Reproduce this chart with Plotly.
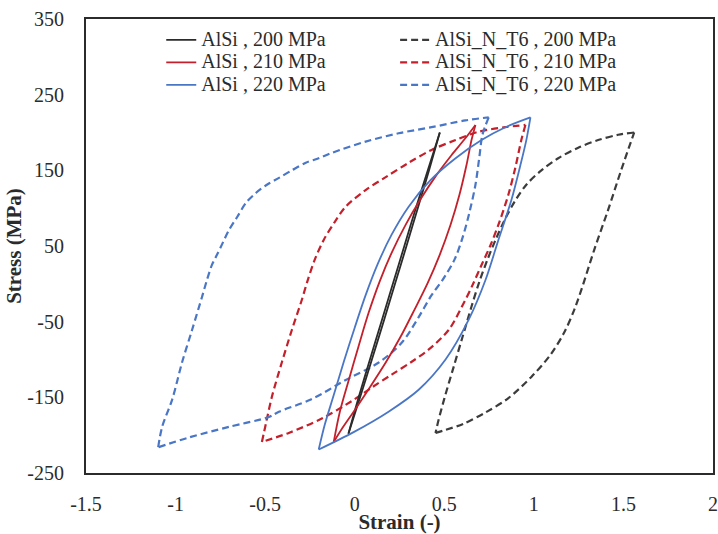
import plotly.graph_objects as go

# Hysteresis loops, strain (-) vs stress (MPa); each loop starts at its valley
strain_alsi_200 = [-0.035, 0.030, 0.096, 0.161, 0.225, 0.289, 0.352, 0.415, 0.475,
                   0.408, 0.341, 0.277, 0.213, 0.149, 0.085, 0.022, -0.035]
stress_alsi_200 = [-198, -150, -100, -50, 0, 50, 100, 150, 200,
                   150, 100, 50, 0, -50, -100, -150, -198]

strain_alsi_210 = [-0.117, -0.084, -0.033, 0.022, 0.078, 0.139, 0.206, 0.284, 0.368, 0.457,
                   0.540, 0.613, 0.674,
                   0.652, 0.624, 0.585, 0.535, 0.474, 0.407, 0.334, 0.256, 0.173, 0.084,
                   -0.006, -0.067, -0.117]
stress_alsi_210 = [-209, -170, -127, -82, -38, 3, 41, 78, 112, 144,
                   170, 191, 210,
                   190, 157, 118, 78, 38, 1, -34, -70, -104, -137,
                   -169, -190, -209]

strain_alsi_220 = [-0.201, -0.167, -0.117, -0.061, 0.000, 0.061, 0.128, 0.206, 0.301, 0.423,
                   0.563, 0.708, 0.841, 0.981,
                   0.958, 0.925, 0.875, 0.802, 0.730, 0.635, 0.507, 0.357, 0.189, -0.006,
                   -0.201]
stress_alsi_220 = [-219, -186, -147, -103, -58, -15, 26, 65, 102, 137,
                   166, 190, 207, 220,
                   190, 157, 111, 58, 5, -48, -100, -140, -169, -196,
                   -219]

strain_t6_200 = [0.451, 0.507, 0.607, 0.730, 0.858, 0.986, 1.092, 1.170, 1.226, 1.265,
                 1.337, 1.415, 1.487, 1.560,
                 1.471, 1.359, 1.248, 1.136, 1.042, 0.958, 0.891, 0.836, 0.786, 0.741,
                 0.696, 0.652, 0.602, 0.552, 0.501, 0.468, 0.451]
stress_t6_200 = [-197, -193, -185, -170, -151, -123, -94, -64, -34, -8,
                 45, 98, 150, 200,
                 197, 190, 180, 166, 150, 131, 108, 84, 58, 32,
                 3, -30, -70, -110, -151, -180, -197]

strain_t6_210 = [-0.518, -0.496, -0.462, -0.407, -0.351, -0.295, -0.262, -0.223, -0.173, -0.111,
                 -0.050, 0.061, 0.173, 0.301, 0.429, 0.563, 0.691, 0.841, 0.953,
                 0.930, 0.897, 0.858, 0.808, 0.758, 0.708, 0.663, 0.618, 0.524, 0.412,
                 0.318, 0.206, 0.095, -0.017, -0.184, -0.368, -0.518]
stress_t6_210 = [-209, -185, -149, -104, -61, -21, 5, 32, 58, 82,
                 102, 124, 141, 160, 177, 190, 201, 207, 210,
                 190, 154, 118, 82, 51, 25, 1, -21, -61, -87,
                 -103, -120, -137, -155, -178, -197, -209]

strain_t6_220 = [-1.097, -1.075, -1.019, -0.964, -0.908, -0.852, -0.825, -0.797, -0.774, -0.747,
                 -0.702, -0.657, -0.607, -0.552, -0.490, -0.423, -0.351, -0.273, -0.201, -0.128,
                 0.061, 0.245, 0.429, 0.618, 0.748, 0.713, 0.696, 0.674, 0.641,
                 0.602, 0.557, 0.490, 0.429, 0.357, 0.262, 0.134, -0.050, -0.245, -0.423,
                 -0.479, -0.702, -0.925, -1.097]
stress_t6_220 = [-216, -189, -153, -104, -61, -17, 5, 25, 36, 49,
                 71, 88, 107, 120, 131, 140, 150, 160, 166, 173,
                 188, 199, 207, 216, 220, 197, 168, 131, 95,
                 61, 32, 5, -15, -44, -78, -104, -127, -153, -169,
                 -176, -189, -203, -216]

x_tick_vals = [-1.5, -1, -0.5, 0, 0.5, 1, 1.5, 2]
x_tick_text = ["-1.5", "-1", "-0.5", "0", "0.5", "1", "1.5", "2"]
y_tick_vals = [-250, -150, -50, 50, 150, 250, 350]
y_tick_text = ["-250", "-150", "-50", "50", "150", "250", "350"]

BLACK = "#2b2b2b"
BLACK_DASH = "#3c3c3c"
RED = "#c3202b"
BLUE = "#4a76c6"
FONT = "Liberation Serif, Times New Roman, serif"


def label(text):
    return f'<span style="font-size:20px">{text}</span>'


series = [
    ("AlSi_N_T6 , 200 MPa", strain_t6_200, stress_t6_200, BLACK_DASH, "7px,4px", "legend2"),
    ("AlSi_N_T6 , 210 MPa", strain_t6_210, stress_t6_210, RED, "7px,4px", "legend2"),
    ("AlSi_N_T6 , 220 MPa", strain_t6_220, stress_t6_220, BLUE, "7px,4px", "legend2"),
    ("AlSi , 200 MPa", strain_alsi_200, stress_alsi_200, BLACK, "solid", "legend"),
    ("AlSi , 210 MPa", strain_alsi_210, stress_alsi_210, RED, "solid", "legend"),
    ("AlSi , 220 MPa", strain_alsi_220, stress_alsi_220, BLUE, "solid", "legend"),
]

fig = go.Figure()
for name, xs, ys, color, dash, leg in series:
    # split each loop at its peak so both branches stay smooth with sharp tips
    peak = ys.index(max(ys))
    branches = [(xs[:peak + 1], ys[:peak + 1]), (xs[peak:], ys[peak:])]
    for i, (bx, by) in enumerate(branches):
        fig.add_trace(go.Scatter(
            x=bx, y=by, mode="lines", name=label(name), legend=leg,
            legendgroup=name, showlegend=(i == 0),
            line=dict(color=color, width=2.2 if dash != "solid" else 1.8,
                      dash=dash, shape="spline", smoothing=0.9),
        ))

legend_common = dict(
    xanchor="left", yanchor="top", bgcolor="rgba(0,0,0,0)", borderwidth=0,
    font=dict(family=FONT, size=15, color=BLACK), itemwidth=30, tracegroupgap=0,
)

fig.update_layout(
    width=718, height=534,
    margin=dict(l=86, r=5, t=19, b=61),
    paper_bgcolor="white", plot_bgcolor="white",
    font=dict(family=FONT, size=20, color=BLACK),
    showlegend=True,
    legend=dict(x=0.12, y=0.99, **legend_common),
    legend2=dict(x=0.493, y=0.99, **legend_common),
    xaxis=dict(
        range=[-1.5, 2], tickvals=x_tick_vals, ticktext=x_tick_text,
        showgrid=False, zeroline=False, showline=True, mirror=True,
        linecolor=BLACK, linewidth=2, ticks="", ticklabelstandoff=12,
        automargin=False,
        title=dict(text="<b>Strain (-)</b>", font=dict(size=21), standoff=4),
    ),
    yaxis=dict(
        range=[-250, 350], tickvals=y_tick_vals, ticktext=y_tick_text,
        showgrid=False, zeroline=False, showline=True, mirror=True,
        linecolor=BLACK, linewidth=2, ticks="", ticklabelstandoff=16,
        automargin=False,
        title=dict(text="<b>Stress (MPa)</b>", font=dict(size=21), standoff=0),
    ),
)

fig.write_html("out.html")
